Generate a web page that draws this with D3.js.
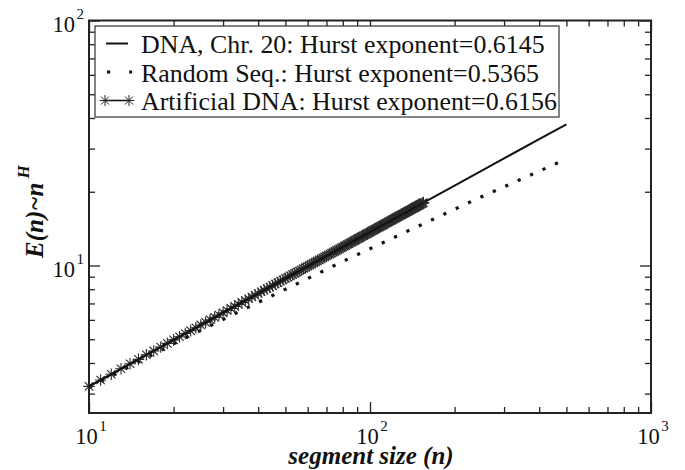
<!DOCTYPE html>
<html>
<head>
<meta charset="utf-8">
<script src="https://cdn.jsdelivr.net/npm/d3@7"></script>
<style>
  html, body { margin: 0; padding: 0; background: #fff; }
  svg { display: block; }
</style>
</head>
<body>
<svg id="chart" width="685" height="470"></svg>
<script>
// Fluctuation E(n) versus segment size n (log-log)
const dnaN = [10, 15, 20, 30, 50, 70, 100, 150, 200, 300, 400, 500];
const dnaE = [3.21, 4.14, 4.97, 6.41, 8.85, 10.94, 13.69, 17.68, 21.19, 27.36, 32.8, 37.7];

const randN = [10, 12, 16, 22, 36, 54, 80, 130, 240, 400, 500];
const randE = [3.18, 3.53, 4.20, 5.06, 6.67, 8.34, 10.39, 13.48, 18.70, 24.27, 27.2];

// Artificial sequence: one point per segment size n = 10 ... 155
const artN = d3.range(10, 156);
const artE = [
  3.21, 3.41, 3.60, 3.79, 3.97, 4.14, 4.32, 4.48, 4.65, 4.81,
  4.97, 5.12, 5.28, 5.42, 5.57, 5.72, 5.86, 6.00, 6.14, 6.28,
  6.41, 6.55, 6.68, 6.81, 6.94, 7.07, 7.19, 7.32, 7.44, 7.57,
  7.69, 7.81, 7.93, 8.05, 8.16, 8.28, 8.40, 8.51, 8.62, 8.74,
  8.85, 8.96, 9.07, 9.18, 9.29, 9.40, 9.50, 9.61, 9.72, 9.82,
  9.93, 10.03, 10.13, 10.24, 10.34, 10.44, 10.54, 10.64, 10.74, 10.84,
  10.94, 11.04, 11.13, 11.23, 11.33, 11.42, 11.52, 11.61, 11.71, 11.80,
  11.90, 11.99, 12.08, 12.18, 12.27, 12.36, 12.45, 12.54, 12.63, 12.72,
  12.81, 12.90, 12.99, 13.08, 13.17, 13.26, 13.35, 13.43, 13.52, 13.61,
  13.69, 13.78, 13.87, 13.95, 14.04, 14.12, 14.21, 14.29, 14.37, 14.46,
  14.54, 14.62, 14.71, 14.79, 14.87, 14.95, 15.04, 15.12, 15.20, 15.28,
  15.36, 15.44, 15.52, 15.60, 15.68, 15.76, 15.84, 15.92, 16.00, 16.08,
  16.15, 16.23, 16.31, 16.39, 16.47, 16.54, 16.62, 16.70, 16.77, 16.85,
  16.93, 17.00, 17.08, 17.15, 17.23, 17.30, 17.38, 17.45, 17.53, 17.60,
  17.68, 17.75, 17.83, 17.90, 17.97, 18.05
];

const legendLabels = [
  "DNA, Chr. 20: Hurst exponent=0.6145",
  "Random Seq.: Hurst exponent=0.5365",
  "Artificial DNA: Hurst exponent=0.6156"
];

const xMajor = [10, 100, 1000];
const xMinor = [20, 30, 40, 50, 60, 70, 80, 90, 200, 300, 400, 500, 600, 700, 800, 900];
const yMajor = [10, 100];
const yMinor = [3, 4, 5, 6, 7, 8, 9, 20, 30, 40, 50, 60, 70, 80, 90];
const xTickLabels = [{v: 10, e: "1"}, {v: 100, e: "2"}, {v: 1000, e: "3"}];
const yTickLabels = [{v: 10, e: "1"}, {v: 100, e: "2"}];

const SERIF = "'Liberation Serif', 'Times New Roman', Times, serif";
const L = 89, R = 651, T = 20.5, B = 413;
const svg = d3.select("#chart");
svg.append("rect").attr("width", 685).attr("height", 470).attr("fill", "#fff");

const x = d3.scaleLog().domain([10, 1000]).range([L, R]);
const y = d3.scaleLog().domain([2.5, 100]).range([B, T]);

// inward ticks on all four sides
function ticks(axisFn, scale, values, size, transform) {
  const g = svg.append("g").attr("transform", transform)
    .call(axisFn(scale).tickValues(values).tickSize(-size).tickFormat(""));
  g.select(".domain").remove();
  g.selectAll(".tick line").attr("stroke", "#222").attr("stroke-width", 1.3);
}
ticks(d3.axisBottom, x, xMajor, 11, `translate(0,${B})`);
ticks(d3.axisBottom, x, xMinor, 6, `translate(0,${B})`);
ticks(d3.axisTop, x, xMajor, 11, `translate(0,${T})`);
ticks(d3.axisTop, x, xMinor, 6, `translate(0,${T})`);
ticks(d3.axisLeft, y, yMajor, 11, `translate(${L},0)`);
ticks(d3.axisLeft, y, yMinor, 6, `translate(${L},0)`);
ticks(d3.axisRight, y, yMajor, 11, `translate(${R},0)`);
ticks(d3.axisRight, y, yMinor, 6, `translate(${R},0)`);

svg.append("rect").attr("x", L).attr("y", T).attr("width", R - L).attr("height", B - T)
  .attr("fill", "none").attr("stroke", "#222").attr("stroke-width", 2);

function txt(parent) {
  return parent.append("text").style("font-family", SERIF).attr("fill", "#111");
}

// tick labels as powers of ten
xTickLabels.forEach(d => {
  const t = txt(svg).attr("x", x(d.v) + 2).attr("y", 443.5)
    .attr("text-anchor", "middle").style("font-size", "22.5px");
  t.append("tspan").text("10");
  t.append("tspan").style("font-size", "15px").attr("dy", -13).attr("dx", 1.5).text(d.e);
});
yTickLabels.forEach(d => {
  const t = txt(svg).attr("x", 84).attr("y", y(d.v) + 11.5)
    .attr("text-anchor", "end").style("font-size", "22.5px");
  t.append("tspan").text("10");
  t.append("tspan").style("font-size", "15px").attr("dy", -13).attr("dx", 1.5).text(d.e);
});

// axis titles
txt(svg).attr("x", 371).attr("y", 463.5).attr("text-anchor", "middle")
  .style("font-size", "25px").style("font-weight", "bold").style("font-style", "italic")
  .text("segment size (n)");
const yt = txt(svg).attr("transform", "translate(43,258) rotate(-90)")
  .style("font-size", "25px").style("font-weight", "bold").style("font-style", "italic");
yt.append("tspan").text("E(n)~n");
yt.append("tspan").style("font-size", "17px").attr("dy", -14).attr("dx", 4).text("H");

const line = d3.line().x(d => x(d[0])).y(d => y(d[1]));
const plot = svg.append("g");

// random sequence (dotted)
plot.append("path").datum(d3.zip(randN, randE)).attr("d", line)
  .attr("fill", "none").attr("stroke", "#111").attr("stroke-width", 3.2)
  .attr("stroke-dasharray", "3.2,10.4");

// DNA chromosome 20 (solid)
plot.append("path").datum(d3.zip(dnaN, dnaE)).attr("d", line)
  .attr("fill", "none").attr("stroke", "#111").attr("stroke-width", 2);

// artificial DNA: line with asterisk markers
const artPts = d3.zip(artN, artE);
const star = r => {
  const k = r * 0.72;
  return `M0,${-r}L0,${r}M${-r},0L${r},0M${-k},${-k}L${k},${k}M${-k},${k}L${k},${-k}`;
};
plot.selectAll("path.star").data(artPts).join("path").attr("class", "star")
  .attr("transform", d => `translate(${x(d[0])},${y(d[1])})`)
  .attr("d", star(5.8)).attr("fill", "none").attr("stroke", "#2a2a2a").attr("stroke-width", 1.1);
plot.append("path").datum(artPts).attr("d", line)
  .attr("fill", "none").attr("stroke", "#111").attr("stroke-width", 1.8);

// legend
svg.append("rect").attr("x", 95).attr("y", 26).attr("width", 464).attr("height", 91)
  .attr("fill", "#fff").attr("stroke", "#333").attr("stroke-width", 1.2);
const rowY = [43.5, 72, 100.5];
legendLabels.forEach((s, i) => {
  txt(svg).attr("x", 141).attr("y", rowY[i] + 9.5).style("font-size", "25.9px").text(s);
});
svg.append("line").attr("x1", 106).attr("x2", 128).attr("y1", rowY[0]).attr("y2", rowY[0])
  .attr("stroke", "#111").attr("stroke-width", 2);
svg.append("line").attr("x1", 107).attr("x2", 132).attr("y1", rowY[1]).attr("y2", rowY[1])
  .attr("stroke", "#111").attr("stroke-width", 3.2).attr("stroke-dasharray", "3.2,19");
svg.append("line").attr("x1", 105).attr("x2", 129).attr("y1", rowY[2]).attr("y2", rowY[2])
  .attr("stroke", "#111").attr("stroke-width", 1.6);
[105, 129].forEach(cx => {
  svg.append("path").attr("transform", `translate(${cx},${rowY[2]})`).attr("d", star(5.5))
    .attr("fill", "none").attr("stroke", "#222").attr("stroke-width", 1);
});
</script>
</body>
</html>
